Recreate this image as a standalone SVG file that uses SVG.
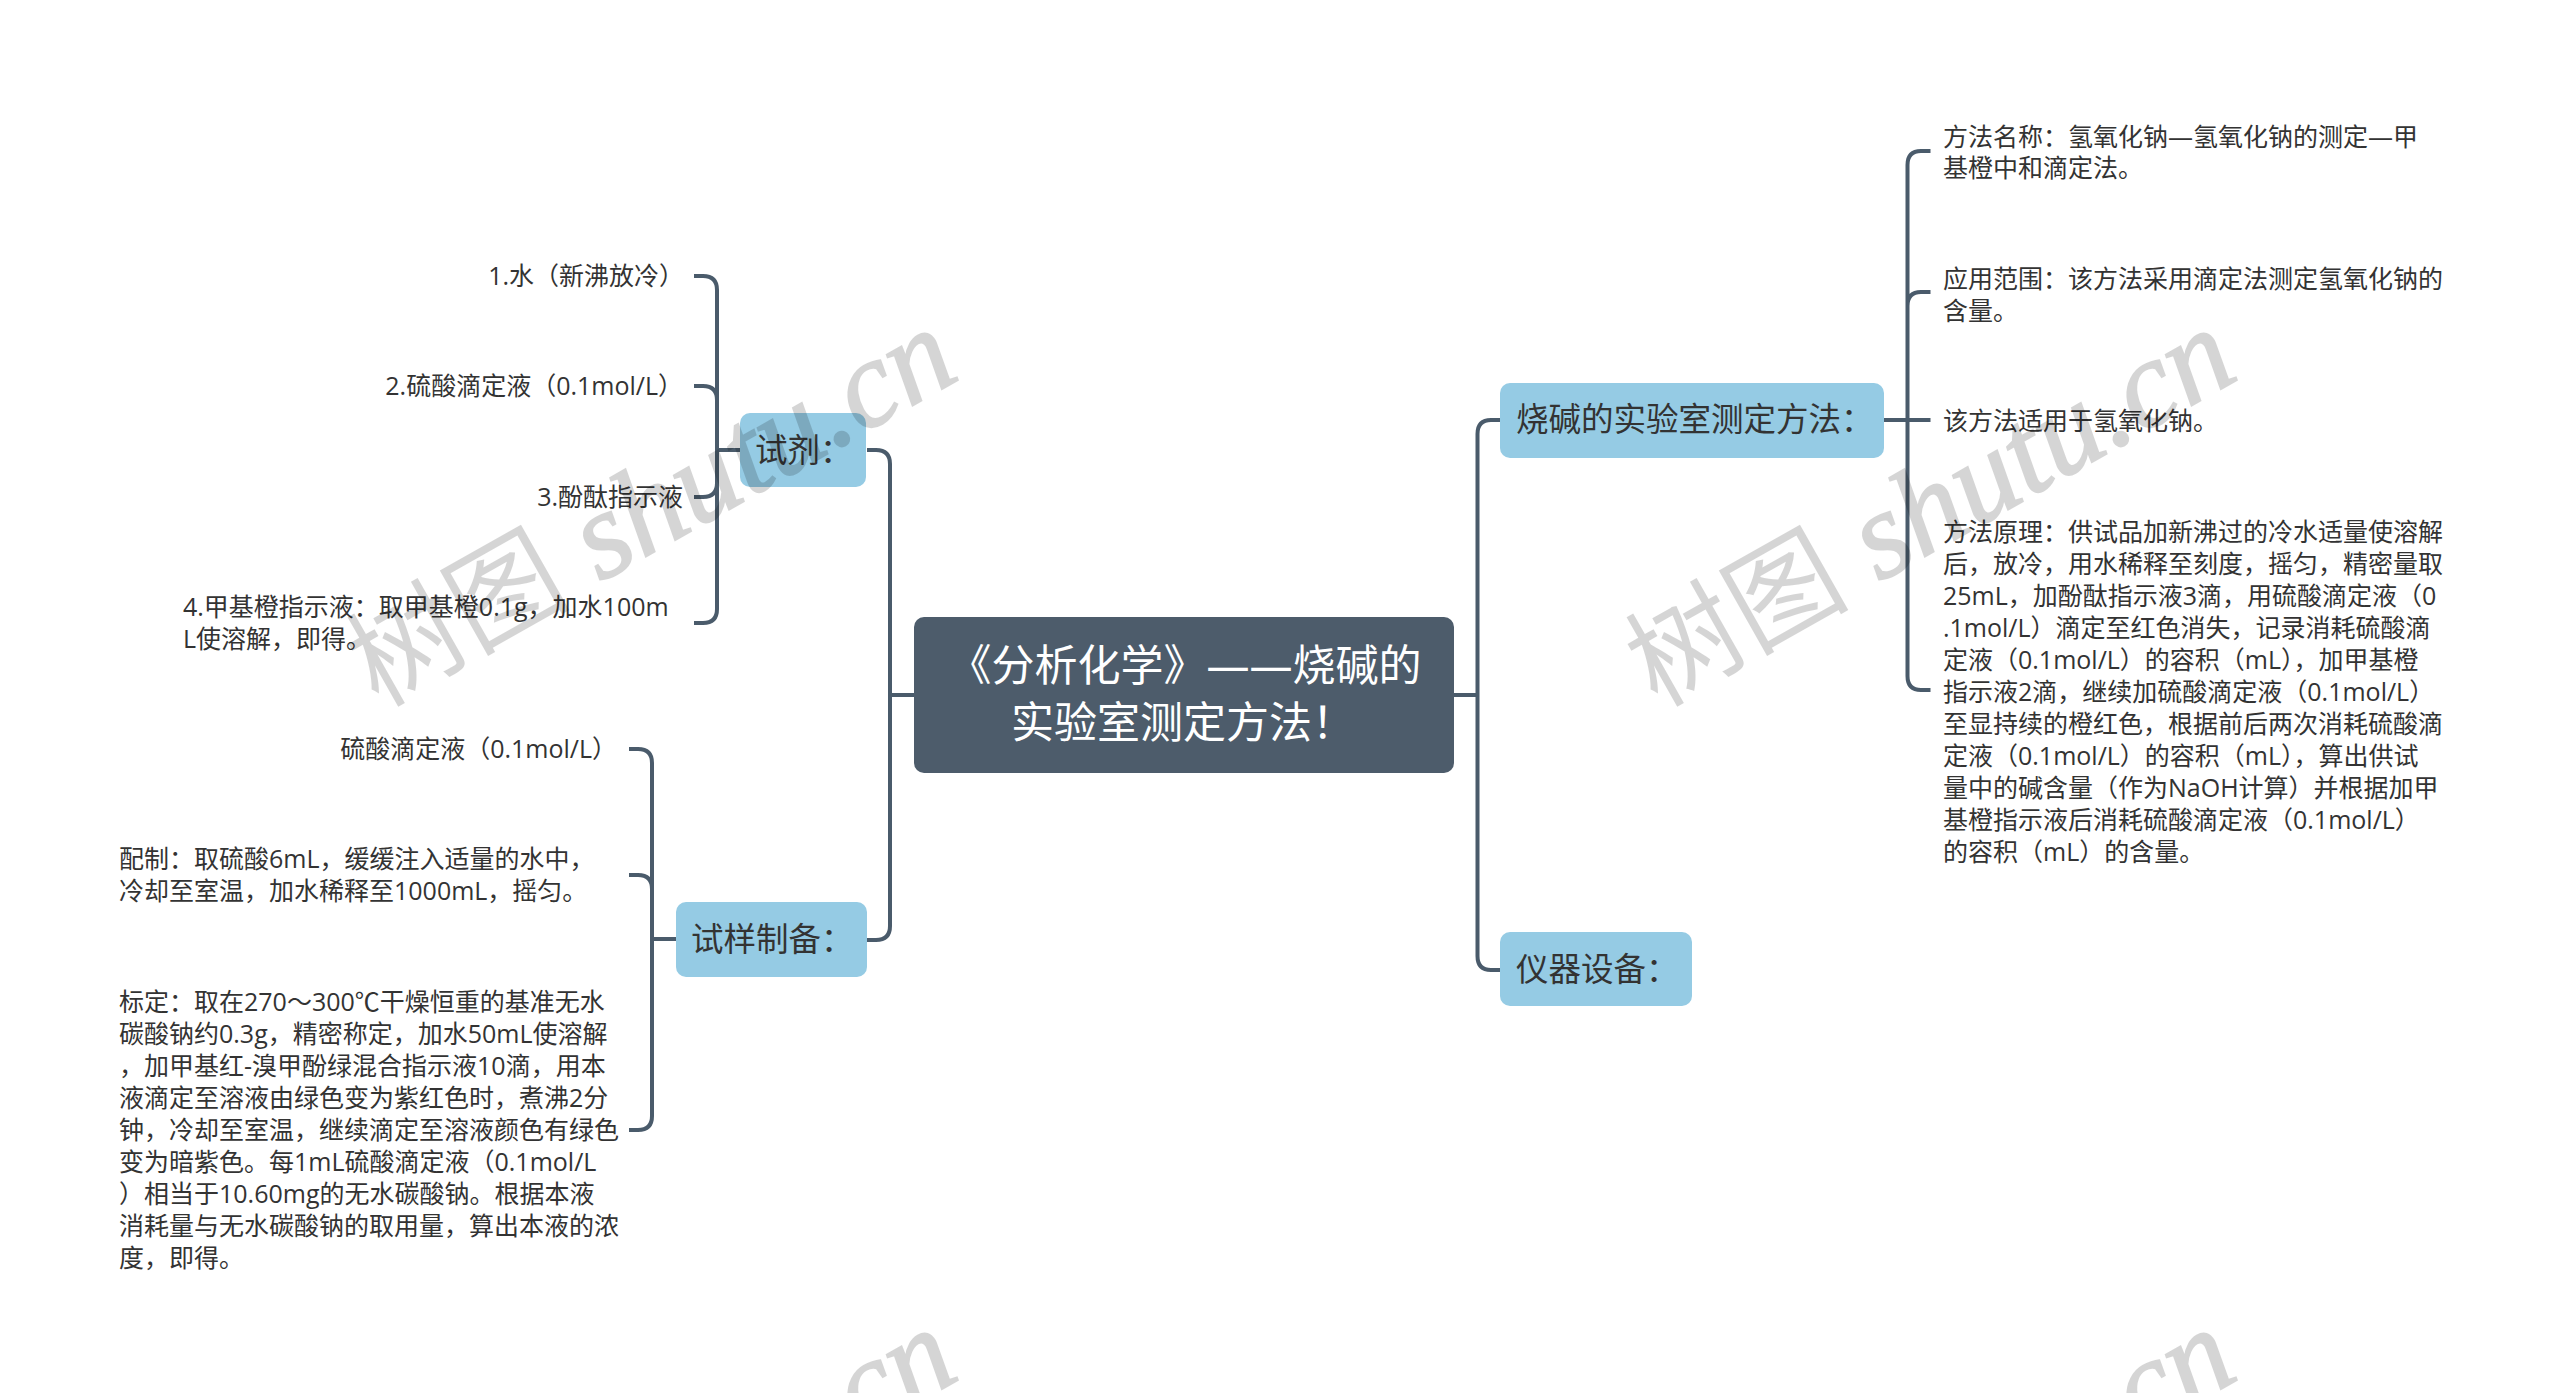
<svg xmlns="http://www.w3.org/2000/svg" width="2560" height="1393" viewBox="0 0 2560 1393">
<defs><style>
text{font-family:"Open Sans","Noto Sans CJK SC",sans-serif}
.leaf{font-size:25px;fill:#333}
.end{text-anchor:end}
.sub{font-size:32.500px;fill:#333}
.root{font-size:43px;fill:#fff;text-anchor:middle}
.b{fill:#95cbe4}
.c{fill:none;stroke:#4a5b6b;stroke-width:4}
.wm{font-family:"Liberation Serif","Noto Sans CJK SC",serif;font-style:italic;font-size:124px;fill:#000;opacity:.16;stroke:#000;stroke-width:2}
.wm tspan{font-size:112px;font-style:normal;stroke-width:0}
</style></defs>
<rect width="2560" height="1393" fill="#fff"/>
<g id="connectors">
<path class="c" d="M914 695H892M867 450H876Q890 450 890 464V926Q890 940 876 940H867"/>
<path class="c" d="M1454 695H1477.500M1500 420H1491Q1477.500 420 1477.500 434V956Q1477.500 970 1491 970H1500"/>
<path class="c" d="M740 450H717M694 276H703Q717 276 717 290V609Q717 623 703 623H694M694 386H703Q717 386 717 400M694 497H703Q717 497 717 483"/>
<path class="c" d="M676 939H652M629 749H638Q652 749 652 763V1116Q652 1130 638 1130H629M629 875H638Q652 875 652 889"/>
<path class="c" d="M1884 420H1930.500M1930.500 151H1921Q1907.500 151 1907.500 165V676Q1907.500 690 1921 690H1930.500M1930.500 292H1921Q1907.500 292 1907.500 306"/>
</g>
<g id="root"><rect x="914" y="617" width="540" height="156" rx="10" fill="#4d5c6b"/>
<text class="root" x="1185" y="681">《分析化学》——烧碱的</text>
<text class="root" x="1183" y="738">实验室测定方法！</text></g>
<g id="n-reagent"><rect class="b" x="740" y="413" width="126" height="74" rx="10"/><text class="sub" x="755" y="462">试剂：</text></g>
<g id="n-sample"><rect class="b" x="676" y="902" width="191" height="75" rx="10"/><text class="sub" x="691" y="951">试样制备：</text></g>
<g id="n-method"><rect class="b" x="1500" y="383" width="384" height="75" rx="10"/><text class="sub" x="1516" y="431">烧碱的实验室测定方法：</text></g>
<g id="n-equip"><rect class="b" x="1500" y="932" width="192" height="74" rx="10"/><text class="sub" x="1516" y="981">仪器设备：</text></g>
<g id="l1" class="leaf"><text class="leaf end" x="684" y="285">1.水（新沸放冷）</text></g>
<g id="l2"><text class="leaf end" x="683" y="395">2.硫酸滴定液（0.1mol/L）</text></g>
<g id="l3"><text class="leaf end" x="683" y="506">3.酚酞指示液</text></g>
<g id="l4"><text class="leaf" x="183" y="616">4.甲基橙指示液：取甲基橙0.1g，加水100m</text><text class="leaf" x="183" y="648">L使溶解，即得。</text></g>
<g id="s1"><text class="leaf end" x="617" y="758">硫酸滴定液（0.1mol/L）</text></g>
<g id="s2"><text class="leaf" x="119" y="868">配制：取硫酸6mL，缓缓注入适量的水中，</text><text class="leaf" x="119" y="900">冷却至室温，加水稀释至1000mL，摇匀。</text></g>
<g id="s3">
<text class="leaf" x="119" y="1011">标定：取在270～300℃干燥恒重的基准无水</text>
<text class="leaf" x="119" y="1043">碳酸钠约0.3g，精密称定，加水50mL使溶解</text>
<text class="leaf" x="119" y="1075">，加甲基红-溴甲酚绿混合指示液10滴，用本</text>
<text class="leaf" x="119" y="1107">液滴定至溶液由绿色变为紫红色时，煮沸2分</text>
<text class="leaf" x="119" y="1139">钟，冷却至室温，继续滴定至溶液颜色有绿色</text>
<text class="leaf" x="119" y="1171">变为暗紫色。每1mL硫酸滴定液（0.1mol/L</text>
<text class="leaf" x="119" y="1203">）相当于10.60mg的无水碳酸钠。根据本液</text>
<text class="leaf" x="119" y="1235">消耗量与无水碳酸钠的取用量，算出本液的浓</text>
<text class="leaf" x="119" y="1267">度，即得。</text>
</g>
<g id="r1"><text class="leaf" x="1943" y="146">方法名称：氢氧化钠—氢氧化钠的测定—甲</text><text class="leaf" x="1943" y="177">基橙中和滴定法。</text></g>
<g id="r2"><text class="leaf" x="1943" y="288">应用范围：该方法采用滴定法测定氢氧化钠的</text><text class="leaf" x="1943" y="320">含量。</text></g>
<g id="r3"><text class="leaf" x="1943" y="430">该方法适用于氢氧化钠。</text></g>
<g id="r4">
<text class="leaf" x="1943" y="541">方法原理：供试品加新沸过的冷水适量使溶解</text>
<text class="leaf" x="1943" y="573">后，放冷，用水稀释至刻度，摇匀，精密量取</text>
<text class="leaf" x="1943" y="605">25mL，加酚酞指示液3滴，用硫酸滴定液（0</text>
<text class="leaf" x="1943" y="637">.1mol/L）滴定至红色消失，记录消耗硫酸滴</text>
<text class="leaf" x="1943" y="669">定液（0.1mol/L）的容积（mL），加甲基橙</text>
<text class="leaf" x="1943" y="701">指示液2滴，继续加硫酸滴定液（0.1mol/L）</text>
<text class="leaf" x="1943" y="733">至显持续的橙红色，根据前后两次消耗硫酸滴</text>
<text class="leaf" x="1943" y="765">定液（0.1mol/L）的容积（mL），算出供试</text>
<text class="leaf" x="1943" y="797">量中的碱含量（作为NaOH计算）并根据加甲</text>
<text class="leaf" x="1943" y="829">基橙指示液后消耗硫酸滴定液（0.1mol/L）</text>
<text class="leaf" x="1943" y="861">的容积（mL）的含量。</text>
</g>
<g id="watermarks">
<text class="wm" transform="translate(378 708) rotate(-29.500)"><tspan>树图</tspan> shutu.cn</text>
<text class="wm" transform="translate(1657 708) rotate(-29.500)"><tspan>树图</tspan> shutu.cn</text>
<text class="wm" transform="translate(378 1708) rotate(-29.500)"><tspan>树图</tspan> shutu.cn</text>
<text class="wm" transform="translate(1657 1708) rotate(-29.500)"><tspan>树图</tspan> shutu.cn</text>
</g>
</svg>
